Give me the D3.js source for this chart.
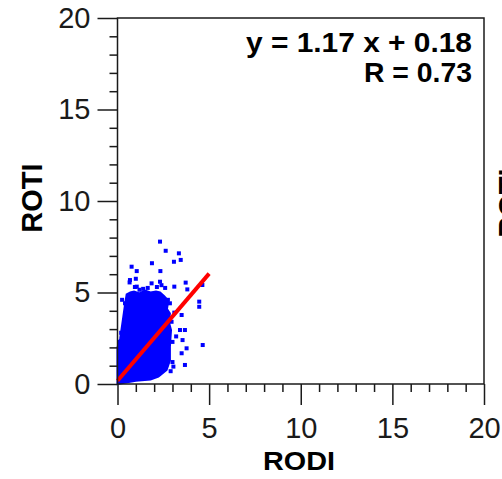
<!DOCTYPE html>
<meta charset="utf-8">
<script src="https://d3js.org/d3.v7.min.js"></script>
<style>
  body { margin: 0; background: #fff; }
  text { font-family: "Liberation Sans", Arial, sans-serif; }
</style>
<div id="my_dataviz"></div>
<script>

    // axis ticks
    var majorTicks = [0, 5, 10, 15, 20];
    var minorTicks = [1, 2, 3, 4, 6, 7, 8, 9, 11, 12, 13, 14, 16, 17, 18, 19];

    // outline of the dense core of the cloud (RODI, ROTI)
    var coreRodi = [0.00, 0.00, 0.15, 0.25, 0.32, 0.42, 0.50, 0.70, 0.90, 1.20, 1.50, 1.80, 2.10, 2.32, 2.55, 2.77, 2.70, 2.86, 2.80, 2.92, 2.86, 2.86, 2.68, 2.23, 1.80, 1.00, 0.30];
    var coreRoti = [0.00, 2.00, 2.50, 3.20, 3.70, 4.40, 4.90, 5.00, 5.05, 4.95, 5.10, 5.00, 5.05, 5.00, 4.80, 4.55, 4.10, 3.85, 3.40, 2.95, 2.05, 1.30, 0.77, 0.40, 0.25, 0.18, 0.05];

    // scattered points outside the core (RODI, ROTI)
    var rodi = [2.32, 2.63, 3.35, 3.45, 3.08, 1.88, 0.77, 1.05, 2.34, 0.68, 0.66, 1.05, 1.86, 2.32, 2.40, 3.10, 3.72, 3.81, 4.63, 4.46, 4.46, 0.41, 0.86, 2.86, 3.50, 3.41, 3.68, 3.55, 3.77, 3.50, 4.65, 3.68, 3.05, 2.41, 3.10, 3.20, 2.90, 0.25, 1.40, 2.60, 1.20, 2.75, 3.00, 0.95, 1.00, 1.65, 2.15, 2.95, 3.00, 0.20, 0.10];
    var roti = [7.78, 7.28, 7.14, 6.78, 6.68, 6.60, 6.41, 6.17, 6.17, 5.68, 5.55, 5.32, 5.50, 5.59, 5.40, 5.32, 5.54, 5.17, 5.41, 4.50, 4.22, 4.41, 4.77, 4.41, 3.77, 2.95, 2.95, 2.40, 1.95, 1.68, 2.13, 1.04, 0.95, 3.50, 3.90, 2.60, 0.70, 4.60, 5.20, 5.25, 5.15, 4.60, 1.20, 5.30, 5.75, 5.25, 5.30, 3.40, 2.30, 2.80, 2.30];

    // regression
    var fitSlope = 1.17, fitIntercept = 0.18, fitR = 0.73;
    var fitRange = [0, 5];

    var width = 502, height = 479;
    var plot = {left: 117.5, right: 484, top: 18, bottom: 384};

    var svg = d3.select("#my_dataviz")
        .append("svg")
        .attr("width", width)
        .attr("height", height);

    var x = d3.scaleLinear().domain([0, 20]).range([plot.left, plot.right]);
    var y = d3.scaleLinear().domain([0, 20]).range([plot.bottom, plot.top]);

    // dense core
    var core = coreRodi.map(function(d, i) { return [d, coreRoti[i]]; });
    svg.append("path")
        .datum(core)
        .attr("d", d3.line()
            .x(function(d) { return x(d[0]); })
            .y(function(d) { return y(d[1]); })
            .curve(d3.curveLinearClosed))
        .attr("fill", "#0000ff")
        .attr("stroke", "#0000ff")
        .attr("stroke-width", 2);

    // scattered points
    svg.append("g")
        .selectAll("rect")
        .data(rodi)
        .enter()
        .append("rect")
        .attr("x", function(d) { return x(d) - 2; })
        .attr("y", function(d, i) { return y(roti[i]) - 2; })
        .attr("width", 4)
        .attr("height", 4)
        .attr("fill", "#0000ff");

    // fit line
    svg.append("line")
        .attr("x1", x(fitRange[0]))
        .attr("y1", y(fitSlope * fitRange[0] + fitIntercept))
        .attr("x2", x(fitRange[1]))
        .attr("y2", y(fitSlope * fitRange[1] + fitIntercept))
        .attr("stroke", "#ff0000")
        .attr("stroke-width", 4);

    // frame
    svg.append("rect")
        .attr("x", plot.left)
        .attr("y", plot.top)
        .attr("width", plot.right - plot.left)
        .attr("height", plot.bottom - plot.top)
        .attr("fill", "none")
        .attr("stroke", "#1a1a1a")
        .attr("stroke-width", 1.5);

    // Y axis
    svg.append("g")
        .attr("transform", "translate(" + plot.left + ",0)")
        .call(d3.axisLeft(y).tickValues(majorTicks).tickSize(20).tickPadding(7));
    svg.append("g")
        .attr("transform", "translate(" + plot.left + ",0)")
        .call(d3.axisLeft(y).tickValues(minorTicks).tickSize(8).tickFormat(""));

    // X axis
    svg.append("g")
        .attr("transform", "translate(0," + plot.bottom + ")")
        .call(d3.axisBottom(x).tickValues(majorTicks).tickSize(21).tickPadding(12));
    svg.append("g")
        .attr("transform", "translate(0," + plot.bottom + ")")
        .call(d3.axisBottom(x).tickValues(minorTicks).tickSize(8).tickFormat(""));

    svg.selectAll(".domain").remove();
    svg.selectAll(".tick line").attr("stroke", "#1a1a1a").attr("stroke-width", 1.5);
    svg.selectAll(".tick text")
        .attr("fill", "#1a1a1a")
        .style("font-family", "'Liberation Sans', Arial, sans-serif")
        .style("font-size", "29px");

    // axis titles
    svg.append("text")
        .attr("text-anchor", "middle")
        .attr("transform", "translate(42,198) rotate(-90)")
        .style("font-size", "29px")
        .style("font-weight", "bold")
        .text("ROTI");
    svg.append("text")
        .attr("text-anchor", "middle")
        .attr("x", 299)
        .attr("y", 470)
        .attr("textLength", 72)
        .attr("lengthAdjust", "spacingAndGlyphs")
        .style("font-size", "26px")
        .style("font-weight", "bold")
        .text("RODI");

    // next panel label, cut by the window edge
    svg.append("text")
        .attr("text-anchor", "middle")
        .attr("transform", "translate(519,203) rotate(-90)")
        .style("font-size", "29px")
        .style("font-weight", "bold")
        .text("ROTI");

    // fit annotation
    svg.append("text")
        .attr("text-anchor", "end")
        .attr("x", 472)
        .attr("y", 52)
        .attr("textLength", 226)
        .attr("lengthAdjust", "spacingAndGlyphs")
        .style("font-size", "28px")
        .style("font-weight", "bold")
        .text("y = " + fitSlope.toFixed(2) + " x + " + fitIntercept.toFixed(2));
    svg.append("text")
        .attr("text-anchor", "end")
        .attr("x", 472)
        .attr("y", 82)
        .attr("textLength", 108)
        .attr("lengthAdjust", "spacingAndGlyphs")
        .style("font-size", "28px")
        .style("font-weight", "bold")
        .text("R = " + fitR.toFixed(2));

</script>
